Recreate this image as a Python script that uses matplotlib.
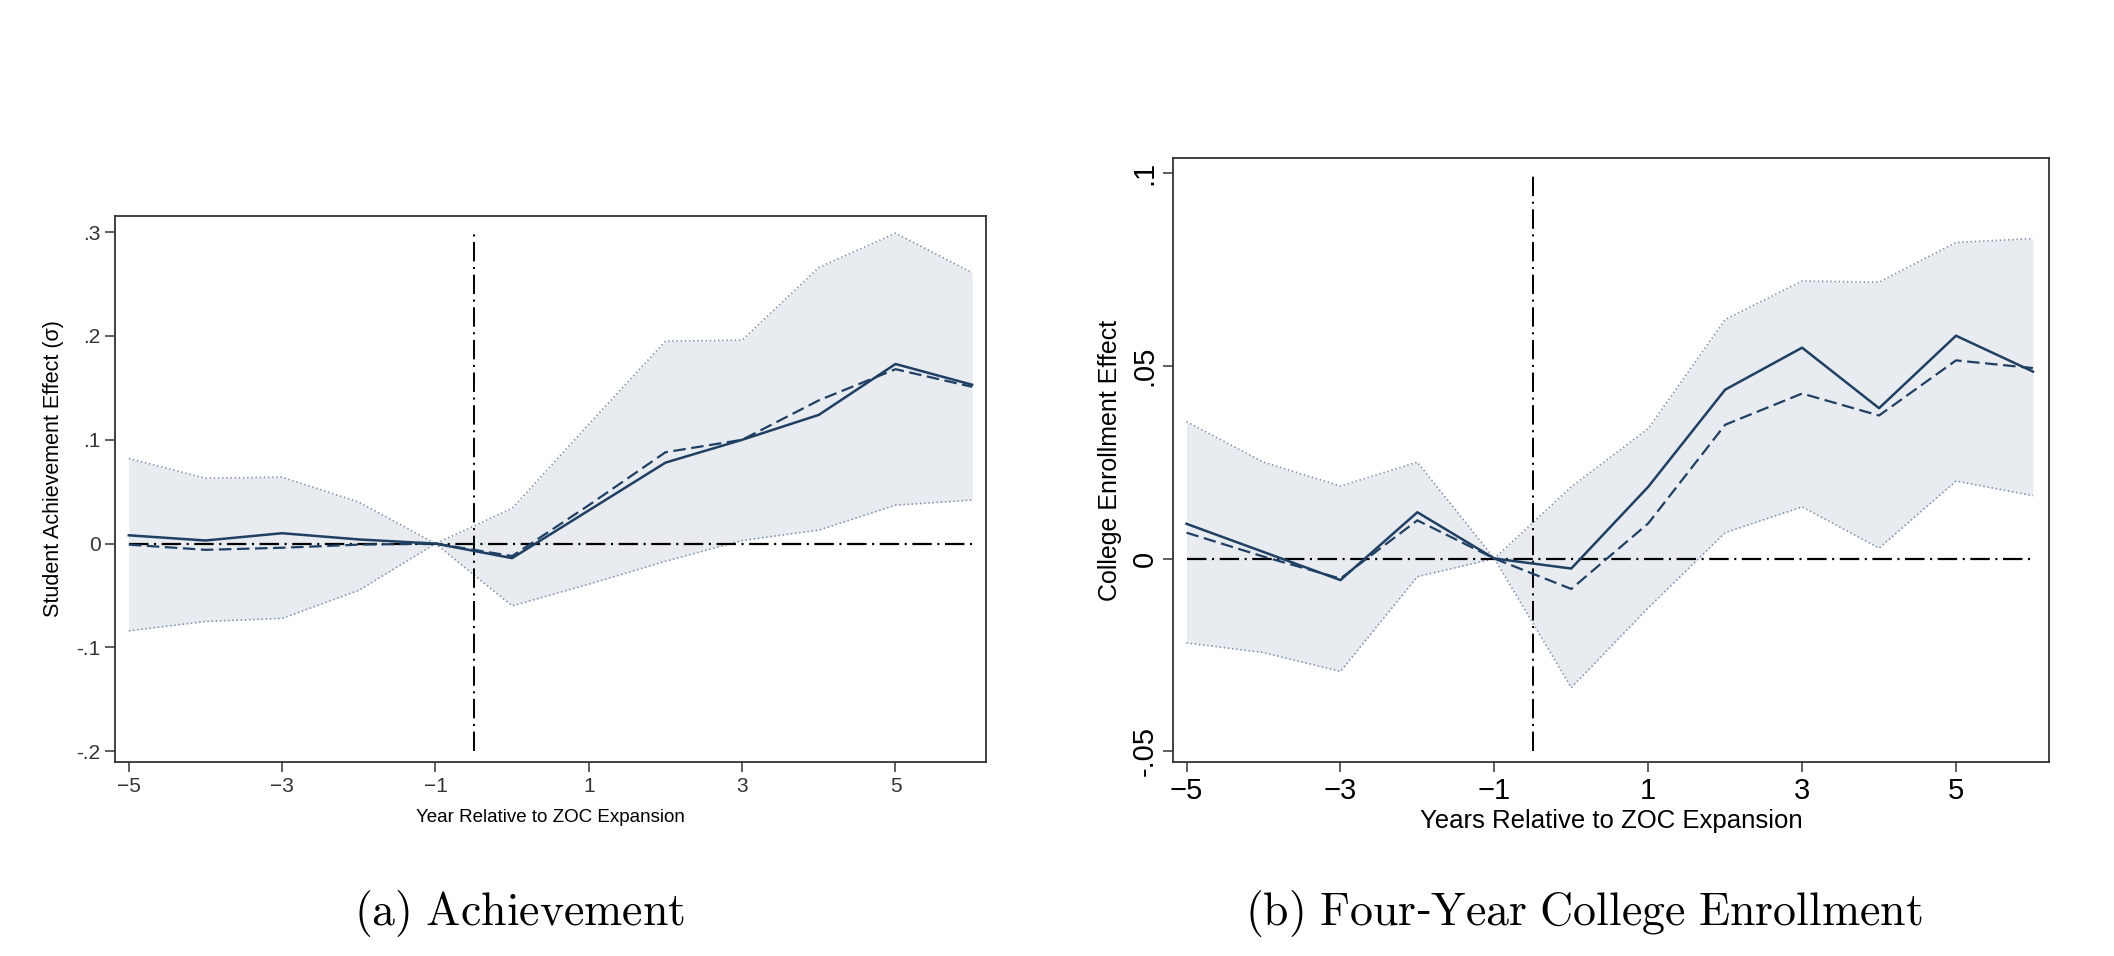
import numpy as np
import matplotlib
matplotlib.use("Agg")
import matplotlib.pyplot as plt

plt.rcParams['mathtext.fontset'] = 'cm'
plt.rcParams['lines.scale_dashes'] = False
plt.rcParams['font.family'] = ['Liberation Sans', 'DejaVu Sans']

years = [-5, -4, -3, -2, -1, 0, 1, 2, 3, 4, 5, 6]

# panel a: achievement
ach_main = [0.008, 0.003, 0.010, 0.004, 0.0, -0.014, 0.032, 0.078, 0.100, 0.124, 0.173, 0.153]
ach_alt = [-0.001, -0.006, -0.004, -0.001, 0.0, -0.012, 0.037, 0.088, 0.100, 0.138, 0.168, 0.151]
ach_hi = [0.082, 0.063, 0.064, 0.040, 0.0, 0.034, 0.115, 0.195, 0.196, 0.266, 0.299, 0.261]
ach_lo = [-0.084, -0.075, -0.072, -0.045, 0.0, -0.060, -0.039, -0.017, 0.003, 0.013, 0.037, 0.042]

# panel b: four-year college enrollment
col_main = [0.009, 0.0017, -0.0056, 0.012, 0.0, -0.0026, 0.0186, 0.0438, 0.0547, 0.039, 0.0578, 0.0485]
col_alt = [0.0067, 0.0005, -0.0052, 0.0099, 0.0, -0.0079, 0.0091, 0.0347, 0.0428, 0.0371, 0.0514, 0.0494]
col_hi = [0.0355, 0.025, 0.0188, 0.025, 0.0, 0.0186, 0.0337, 0.062, 0.072, 0.0717, 0.082, 0.083]
col_lo = [-0.0219, -0.0244, -0.0293, -0.0047, 0.0, -0.0335, -0.0128, 0.0067, 0.0134, 0.0027, 0.0201, 0.0163]

navy = '#1f3f63'
band = '#e8ebf0'
edge = '#7d8ea8'

fig = plt.figure(figsize=(21.14, 9.56), dpi=100)
ax1 = fig.add_axes([0.0544, 0.2029, 0.4120, 0.5712])
ax2 = fig.add_axes([0.5549, 0.2029, 0.4144, 0.6318])


def draw(ax, main, alt, hi, lo, ylo, yhi):
    ax.fill_between(years, lo, hi, color=band, lw=0)
    ax.plot(years, hi, color=edge, lw=1.2, ls=(0, (1, 2)))
    ax.plot(years, lo, color=edge, lw=1.2, ls=(0, (1, 2)))
    ax.plot([-5, 6], [0, 0], color='black', lw=1.6, ls=(0, (14, 4, 1.5, 4)))
    ax.plot([-0.5, -0.5], [ylo, yhi], color='black', lw=1.4, ls=(0, (14, 4, 1.5, 4)))
    ax.plot(years, main, color=navy, lw=1.8)
    ax.plot(years, alt, color=navy, lw=1.6, ls=(0, (9, 4)))
    ax.set_xticks([-5, -3, -1, 1, 3, 5])
    ax.tick_params(direction='out', length=7, width=1.2, color='#444444')
    for s in ax.spines.values():
        s.set_linewidth(1.3)
        s.set_color('#333333')


draw(ax1, ach_main, ach_alt, ach_hi, ach_lo, -0.2, 0.3)
ax1.set_xlim(-5.18, 6.18)
ax1.set_ylim(-0.2104, 0.3156)
ax1.set_yticks([-0.2, -0.1, 0, 0.1, 0.2, 0.3])
ax1.set_yticklabels(['-.2', '-.1', '0', '.1', '.2', '.3'])
ax1.tick_params(labelsize=15, labelcolor='#333333')
ax1.set_xlabel('Year Relative to ZOC Expansion', fontsize=13.5, labelpad=10)
ax1.set_ylabel('Student Achievement Effect (σ)', fontsize=15.5)
ax1.yaxis.set_label_coords(-0.059, 0.538)

draw(ax2, col_main, col_alt, col_hi, col_lo, -0.05, 0.1)
ax2.set_xlim(-5.175, 6.21)
ax2.set_ylim(-0.0528, 0.1039)
ax2.set_yticks([-0.05, 0, 0.05, 0.1])
ax2.set_yticklabels(['-.05', '0', '.05', '.1'], rotation=90, va='center')
ax2.tick_params(labelsize=21, labelcolor='black')
ax2.set_xlabel('Years Relative to ZOC Expansion', fontsize=18.5, labelpad=3)
ax2.set_ylabel('College Enrollment Effect', fontsize=18, labelpad=6)

fig.text(0.2455, 0.044, r'$\mathrm{(a)\ Achievement}$', fontsize=33, ha='center', va='center')
fig.text(0.7489, 0.044, r'$\mathrm{(b)\ Four}$-$\mathrm{Year\ College\ Enrollment}$', fontsize=33,
         ha='center', va='center')

fig.savefig('out.png', dpi=100)
